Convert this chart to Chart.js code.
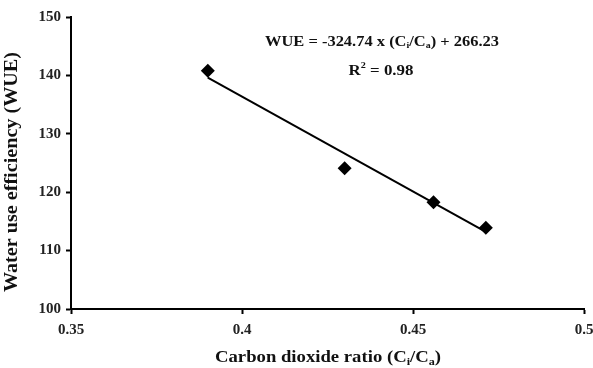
<!DOCTYPE html>
<html>
<head>
<meta charset="utf-8">
<script src="https://cdn.jsdelivr.net/npm/chart.js@4.4.1/dist/chart.umd.min.js"></script>
<style>
    html, body { margin: 0; padding: 0; background: #fff; }
    #wrap { width: 593px; height: 368px; position: relative; }
</style>
</head>
<body>
<div id="wrap"><canvas id="wueChart"></canvas></div>
<script>
/* DATA */
const ciCaRatio = [0.39, 0.43, 0.456, 0.4713];
const wueValues = [140.8, 124.1, 118.3, 113.9];

// trend line ends
const trendX = [0.39, 0.4713];
const trendY = [139.6, 113.2];

const xTickLabels = ["0.35", "0.4", "0.45", "0.5"];
const yTickLabels = ["100", "110", "120", "130", "140", "150"];

const SERIF = "'Liberation Serif', 'Times New Roman', serif";


/* RICH TEXT HELPER (sub / superscripts), squeezed or stretched to a width */
function drawRich(ctx, parts, cx, baseline, size, width) {
    let total = 0;
    parts.forEach(p => {
        ctx.font = `bold ${size * (p.scale || 1)}px ${SERIF}`;
        p.w = ctx.measureText(p.t).width;
        total += p.w;
    });
    const sx = width ? width / total : 1;

    ctx.save();
    ctx.translate(cx, baseline);
    ctx.scale(sx, 1);
    ctx.textAlign = "left";
    ctx.textBaseline = "alphabetic";
    let x = -total / 2;
    parts.forEach(p => {
        ctx.font = `bold ${size * (p.scale || 1)}px ${SERIF}`;
        ctx.fillText(p.t, x, p.dy || 0);
        x += p.w;
    });
    ctx.restore();
}


/* TITLES + ANNOTATION */
const textPlugin = {
    id: "textPlugin",
    afterDraw(chart) {
        const ctx = chart.ctx;
        ctx.save();
        ctx.fillStyle = "#111";

        drawRich(ctx, [
            { t: "WUE = -324.74 x (C" },
            { t: "i", scale: 0.6, dy: 2 },
            { t: "/C" },
            { t: "a", scale: 0.6, dy: 2 },
            { t: ") + 266.23" }
        ], 382, 46, 15, 234);

        drawRich(ctx, [
            { t: "R" },
            { t: "2", scale: 0.6, dy: -7 },
            { t: " = 0.98" }
        ], 381, 75, 15, 65);

        drawRich(ctx, [
            { t: "Carbon dioxide ratio (C" },
            { t: "i", scale: 0.65, dy: 3 },
            { t: "/C" },
            { t: "a", scale: 0.65, dy: 3 },
            { t: ")" }
        ], 328, 362, 17, 226);

        ctx.translate(17, 172);
        ctx.rotate(-Math.PI / 2);
        drawRich(ctx, [{ t: "Water use efficiency (WUE)" }], 0, 0, 18, 240);

        ctx.restore();
    }
};


/* CHART */
function createChart() {
    const ctx = document.getElementById("wueChart").getContext("2d");

    new Chart(ctx, {
        type: "scatter",
        data: {
            datasets: [
                {
                    label: "WUE",
                    data: ciCaRatio.map((x, i) => ({ x: x, y: wueValues[i] })),
                    pointStyle: "rectRot",
                    pointRadius: 7,
                    backgroundColor: "#000",
                    borderColor: "#000",
                    borderWidth: 0
                },
                {
                    label: "Trend",
                    type: "line",
                    data: trendX.map((x, i) => ({ x: x, y: trendY[i] })),
                    borderColor: "#000",
                    borderWidth: 2,
                    pointRadius: 0,
                    fill: false
                }
            ]
        },
        options: {
            responsive: true,
            maintainAspectRatio: false,
            animation: false,
            layout: { padding: { top: 17, right: 9, left: 0, bottom: 0 } },
            plugins: {
                legend: { display: false },
                tooltip: { enabled: false }
            },
            scales: {
                x: {
                    type: "linear",
                    min: 0.35,
                    max: 0.5,
                    afterBuildTicks: s => {
                        s.ticks = xTickLabels.map(v => ({ value: parseFloat(v) }));
                    },
                    afterFit: s => {
                        s.height = 59;
                        s.paddingLeft = 0;
                        s.paddingRight = 0;
                    },
                    ticks: {
                        callback: (v, i) => xTickLabels[i],
                        color: "#222",
                        padding: 7,
                        maxRotation: 0,
                        font: { family: SERIF, size: 15, weight: "bold" }
                    },
                    grid: {
                        drawOnChartArea: false,
                        drawTicks: true,
                        tickLength: 5,
                        tickWidth: 2,
                        tickColor: "#000"
                    },
                    border: { display: true, color: "#000", width: 2 }
                },
                y: {
                    type: "linear",
                    min: 100,
                    max: 150,
                    afterBuildTicks: s => {
                        s.ticks = yTickLabels.map(v => ({ value: parseFloat(v) }));
                    },
                    afterFit: s => {
                        s.width = 71;
                        s.paddingTop = 0;
                        s.paddingBottom = 0;
                    },
                    ticks: {
                        callback: (v, i) => yTickLabels[i],
                        color: "#222",
                        padding: 5,
                        font: { family: SERIF, size: 15, weight: "bold" }
                    },
                    grid: {
                        drawOnChartArea: false,
                        drawTicks: true,
                        tickLength: 5,
                        tickWidth: 2,
                        tickColor: "#000"
                    },
                    border: { display: true, color: "#000", width: 2 }
                }
            }
        },
        plugins: [textPlugin]
    });
}


document.addEventListener("DOMContentLoaded", () => {
    createChart();
});
</script>
</body>
</html>
